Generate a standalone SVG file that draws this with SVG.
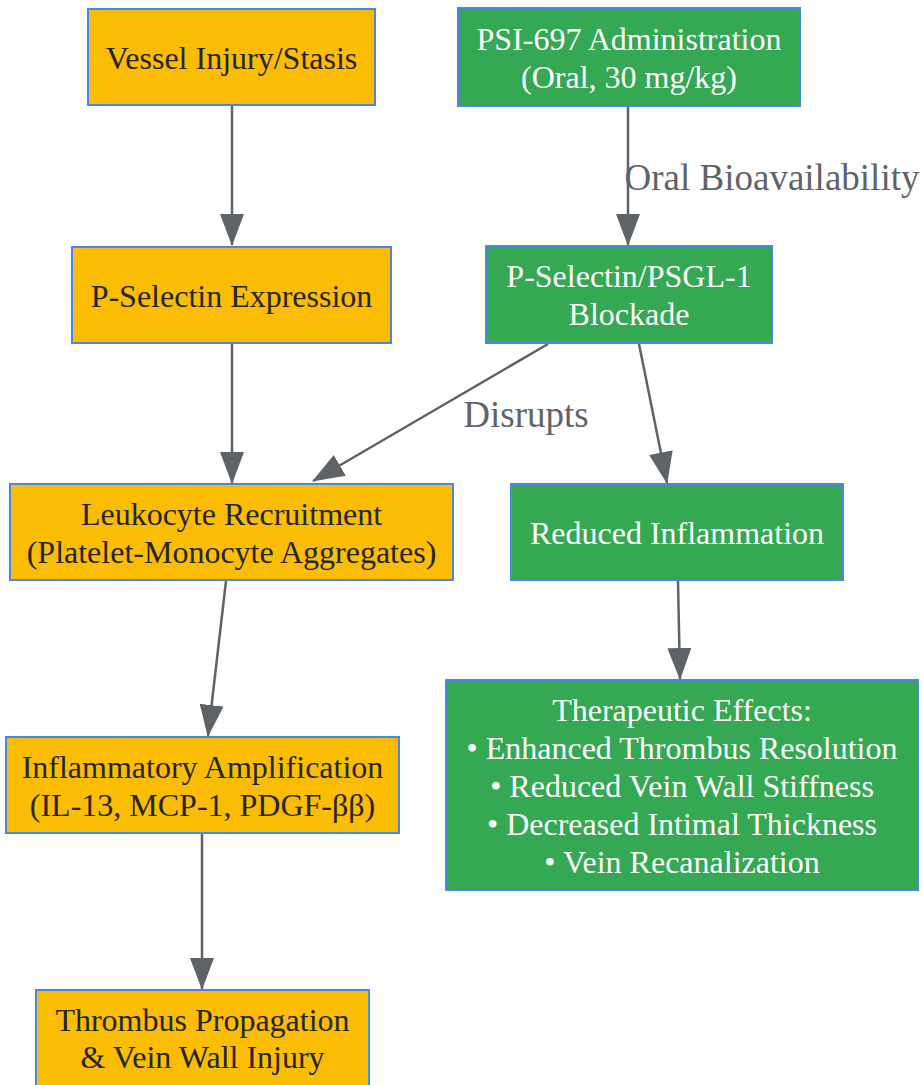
<svg xmlns="http://www.w3.org/2000/svg" width="923" height="1085" viewBox="0 0 923 1085">
<defs>
<style>
.box{stroke:#4A86E8;stroke-width:2}
.y{fill:#FBBC04}
.g{fill:#34A853}
.t{font-family:"Liberation Serif","Times New Roman",serif;font-size:32px;text-anchor:middle}
.dk{fill:#262626}
.wt{fill:#ffffff}
.edge{stroke:#5F6368;stroke-width:2.5;fill:none}
.lbl{font-family:"Liberation Serif","Times New Roman",serif;font-size:37px;text-anchor:middle;fill:#5F6368}
</style>
<marker id="ah" markerUnits="userSpaceOnUse" markerWidth="32" markerHeight="24" viewBox="0 0 32 24" refX="31" refY="12" orient="auto">
<path d="M0,0 L32,12 L0,24 Z" fill="#5F6368"/>
</marker>
</defs>
<g id="connectors">
<line class="edge" x1="232" y1="106" x2="232" y2="245" marker-end="url(#ah)"/>
<line class="edge" x1="628" y1="107" x2="628" y2="245" marker-end="url(#ah)"/>
<line class="edge" x1="232" y1="344" x2="232" y2="483" marker-end="url(#ah)"/>
<line class="edge" x1="548" y1="344" x2="313" y2="481" marker-end="url(#ah)"/>
<line class="edge" x1="639" y1="344" x2="667" y2="483" marker-end="url(#ah)"/>
<line class="edge" x1="226" y1="581" x2="208" y2="736" marker-end="url(#ah)"/>
<line class="edge" x1="678" y1="581" x2="680" y2="679" marker-end="url(#ah)"/>
<line class="edge" x1="202" y1="834" x2="202" y2="989" marker-end="url(#ah)"/>
<text class="lbl" x="772" y="190">Oral Bioavailability</text>
<text class="lbl" x="526" y="427">Disrupts</text>
</g>
<g id="n1">
<rect class="box y" x="88" y="9" width="287" height="96"/>
<text class="t dk" x="231.5" y="69">Vessel Injury/Stasis</text>
</g>
<g id="n2">
<rect class="box g" x="458" y="8" width="342" height="98"/>
<text class="t wt" x="629" y="50">PSI-697 Administration</text>
<text class="t wt" x="629" y="88">(Oral, 30 mg/kg)</text>
</g>
<g id="n3">
<rect class="box y" x="72" y="247" width="319" height="96"/>
<text class="t dk" x="231.5" y="307">P-Selectin Expression</text>
</g>
<g id="n4">
<rect class="box g" x="486" y="246" width="286" height="97"/>
<text class="t wt" x="629" y="287">P-Selectin/PSGL-1</text>
<text class="t wt" x="629" y="325">Blockade</text>
</g>
<g id="n5">
<rect class="box y" x="10" y="484" width="443" height="96"/>
<text class="t dk" x="231.5" y="525">Leukocyte Recruitment</text>
<text class="t dk" x="231.5" y="563">(Platelet-Monocyte Aggregates)</text>
</g>
<g id="n6">
<rect class="box g" x="511" y="484" width="332" height="96"/>
<text class="t wt" x="677" y="544">Reduced Inflammation</text>
</g>
<g id="n7">
<rect class="box y" x="6" y="737" width="393" height="96"/>
<text class="t dk" x="202.5" y="778">Inflammatory Amplification</text>
<text class="t dk" x="202.5" y="816">(IL-13, MCP-1, PDGF-ββ)</text>
</g>
<g id="n8">
<rect class="box g" x="446" y="680" width="472" height="210"/>
<text class="t wt" x="682" y="721">Therapeutic Effects:</text>
<text class="t wt" x="682" y="759">• Enhanced Thrombus Resolution</text>
<text class="t wt" x="682" y="797">• Reduced Vein Wall Stiffness</text>
<text class="t wt" x="682" y="835">• Decreased Intimal Thickness</text>
<text class="t wt" x="682" y="873">• Vein Recanalization</text>
</g>
<g id="n9">
<rect class="box y" x="36" y="990" width="333" height="98"/>
<text class="t dk" x="202.5" y="1031">Thrombus Propagation</text>
<text class="t dk" x="202.5" y="1068">&amp; Vein Wall Injury</text>
</g>
</svg>
